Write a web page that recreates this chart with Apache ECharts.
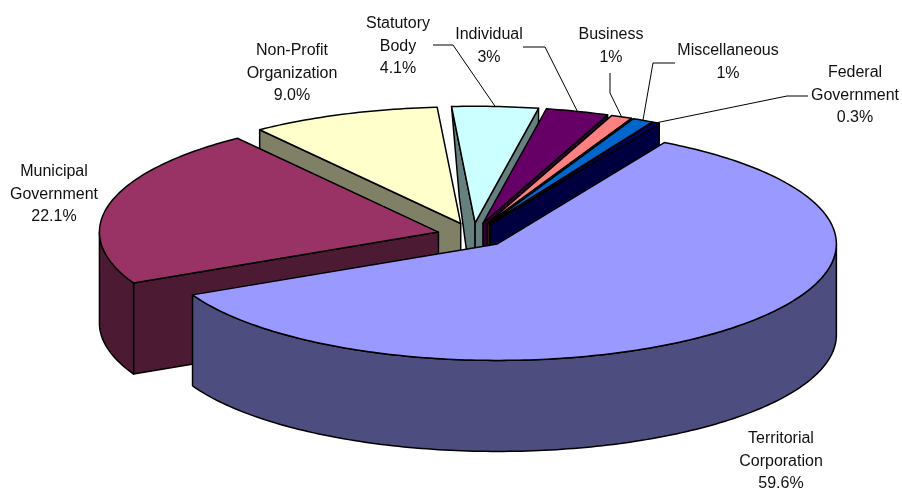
<!DOCTYPE html>
<html>
<head>
<meta charset="utf-8">
<title>Exploded 3D pie</title>
<style>
  html, body { margin: 0; padding: 0; background: #fff; }
  #chart { width: 902px; height: 491px; }
</style>
<script src="https://cdn.jsdelivr.net/npm/echarts@6/dist/echarts.min.js"></script>
</head>
<body>
<div id="chart"></div>
<script>
// clockwise order, first slice starts at startAngle
const categories = [
  'Territorial\nCorporation',
  'Municipal\nGovernment',
  'Non-Profit\nOrganization',
  'Statutory\nBody',
  'Individual',
  'Business',
  'Miscellaneous',
  'Federal\nGovernment',
];
const shares = [59.6, 22.1, 9.0, 4.1, 3, 1, 1, 0.3];
const shareLabels = ['59.6%', '22.1%', '9.0%', '4.1%', '3%', '1%', '1%', '0.3%'];

const topColors = ['#9999FF', '#993366', '#FFFFCC', '#CCFFFF', '#660066', '#FF8080', '#0066CC', '#000080'];
const sideColors = ['#4D4D80', '#4D1A33', '#808066', '#668080', '#330033', '#804040', '#003366', '#000040'];

// projected pie
const centerX = 473;
const centerY = 235;
const radiusX = 339;
const radiusY = 116.5;
const depth = 91;
const explode = 0.105;
const startAngle = 29.5;

// painter's order, the slices overlap each other like this in the original
const drawOrder = [3, 4, 5, 6, 7, 2, 1, 0];

// [label center x, first line center y]
const labelPos = [[781, 438], [54, 171], [292, 50], [398, 23], [489, 34], [611, 34], [728, 50], [855, 72]];
// leader line elbows, slices without one have no leader
const leaders = {
  3: [[433, 45], [453, 45]],
  4: [[523, 47], [545, 47]],
  5: [[610, 73], [610, 93]],
  6: [[675, 63], [653, 63]],
  7: [[808, 96], [787, 96]],
};

// rounded shares add up to 100.1, keep them as printed
let acc = startAngle;
const slices = shares.map((v) => {
  const from = acc;
  acc += (v / 100) * 360;
  return { from, to: acc, mid: (from + acc) / 2 };
});

const rad = (d) => (d * Math.PI) / 180;

const apexOf = (s) => [
  centerX + explode * radiusX * Math.sin(rad(s.mid)),
  centerY - explode * radiusY * Math.cos(rad(s.mid)),
];
const rimPoint = (s, a) => {
  const p = apexOf(s);
  return [p[0] + radiusX * Math.sin(rad(a)), p[1] - radiusY * Math.cos(rad(a))];
};
const down = (p, dx = 0) => [p[0] + dx, p[1] + depth];

const polygon = (points, fill) => ({
  type: 'polygon',
  shape: { points },
  style: { fill, stroke: '#000', lineWidth: 1.5, lineJoin: 'round' },
});

const wall = (s, a, fill, squeeze = 0) => {
  const apex = apexOf(s);
  const rim = rimPoint(s, a);
  return polygon([rim, apex, down(apex), down(rim, squeeze * (apex[0] - rim[0]))], fill);
};

const renderSlice = (params, api) => {
  const i = api.value(0);
  const s = slices[i];
  const children = [];

  // only the faces turned to the viewer
  if (Math.sin(rad(s.from)) < 0) {
    // statutory body wall narrows towards its foot in the original
    children.push(wall(s, s.from, sideColors[i], i === 3 ? 0.33 : 0));
  }
  if (Math.sin(rad(s.to)) > 0) {
    children.push(wall(s, s.to, sideColors[i]));
  }

  const a0 = Math.max(s.from, 90);
  const a1 = Math.min(s.to, 270);
  if (a1 > a0) {
    const upper = [];
    for (let a = a0; a < a1; a += 1) upper.push(rimPoint(s, a));
    upper.push(rimPoint(s, a1));
    const lower = upper.map((p) => down(p)).reverse();
    children.push(polygon(upper.concat(lower), sideColors[i]));
  }

  const top = [apexOf(s)];
  for (let a = s.from; a < s.to; a += 1) top.push(rimPoint(s, a));
  top.push(rimPoint(s, s.to));
  children.push(polygon(top, topColors[i]));

  return { type: 'group', children };
};

const labelGraphics = categories.map((name, i) => ({
  type: 'text',
  silent: true,
  x: labelPos[i][0],
  y: labelPos[i][1] - 10.5,
  style: {
    text: name + '\n' + shareLabels[i],
    fill: '#111',
    font: '16px "Liberation Sans", Arial, sans-serif',
    lineHeight: 22.6,
    align: 'center',
    verticalAlign: 'top',
  },
}));

const leaderGraphics = Object.keys(leaders).map((k) => {
  const s = slices[k];
  return {
    type: 'polyline',
    silent: true,
    shape: { points: leaders[k].concat([rimPoint(s, s.mid)]) },
    style: { stroke: '#000', lineWidth: 1, fill: null },
  };
});

const chart = echarts.init(document.getElementById('chart'));
chart.setOption({
  animation: false,
  backgroundColor: '#fff',
  series: [
    {
      type: 'custom',
      coordinateSystem: 'none',
      silent: true,
      renderItem: renderSlice,
      data: drawOrder.map((i) => [i]),
    },
  ],
  graphic: leaderGraphics.concat(labelGraphics),
});
</script>
</body>
</html>
